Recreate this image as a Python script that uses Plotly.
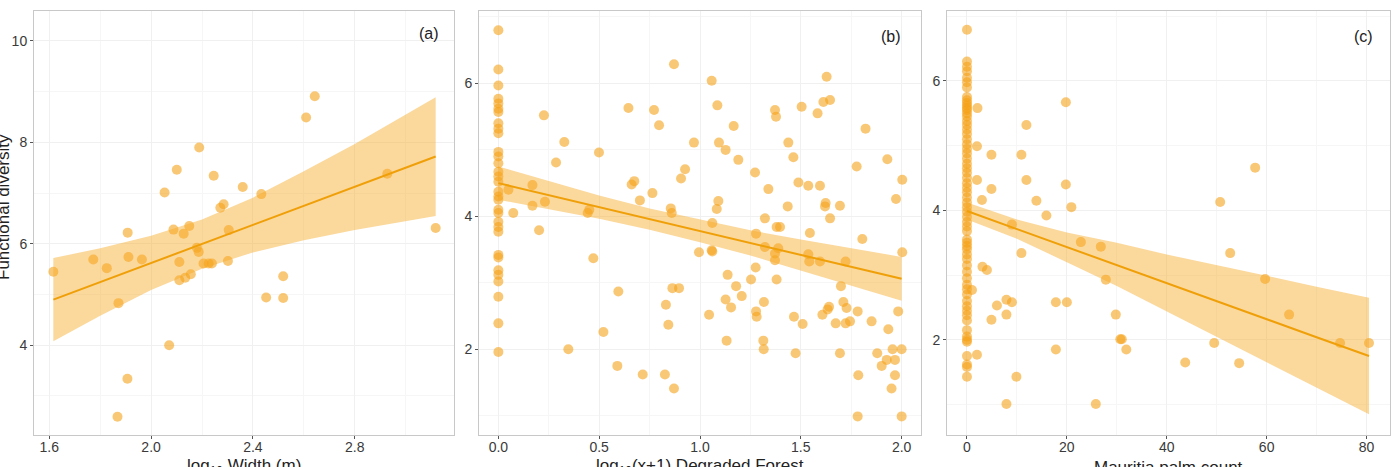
import plotly.graph_objects as go

# ---------------- data ----------------
# Panel (a): log10 Width (m) vs Functional diversity
a_x = [1.616, 1.773, 1.826, 1.872, 1.908, 1.911, 1.964, 1.907, 1.868, 2.053,
       2.101, 2.189, 2.088, 2.128, 2.150, 2.111, 2.111, 2.134, 2.156, 2.071,
       2.180, 2.187, 2.206, 2.226, 2.239, 2.246, 2.272, 2.285, 2.305, 2.302,
       2.360, 2.433, 2.452, 2.519, 2.519, 2.609, 2.643, 2.928, 3.118]
a_y = [5.45, 5.69, 5.52, 4.83, 6.22, 5.74, 5.69, 3.34, 2.59, 7.01,
       7.46, 7.90, 6.28, 6.20, 6.35, 5.64, 5.28, 5.33, 5.40, 4.00,
       5.92, 5.84, 5.61, 5.61, 5.61, 7.34, 6.71, 6.78, 6.27, 5.66,
       7.12, 6.98, 4.94, 5.36, 4.93, 8.49, 8.91, 7.38, 6.31]
a_fit_x = [1.616, 1.8, 2.0, 2.2, 2.4, 2.6, 2.8, 3.0, 3.118]
a_fit = [4.90, 5.245, 5.62, 6.00, 6.37, 6.75, 7.12, 7.50, 7.72]
a_hi = [5.72, 5.91, 6.16, 6.48, 6.91, 7.43, 7.97, 8.55, 8.89]
a_lo = [4.08, 4.58, 5.09, 5.51, 5.83, 6.07, 6.27, 6.45, 6.55]

# Panel (b): log10(x+1) Degraded Forest vs Functional diversity
b_x0_y = [6.80, 6.21, 5.97, 5.77, 5.70, 5.62, 5.57, 5.40, 5.32, 5.25,
          4.97, 4.90, 4.80, 4.67, 4.60, 4.52, 4.37, 4.30, 4.25, 4.10,
          4.05, 3.92, 3.84, 3.77, 3.42, 3.38, 3.19, 3.12, 3.02, 2.79,
          2.39, 1.96]
b_xo = [0.050, 0.074, 0.169, 0.169, 0.202, 0.226, 0.231, 0.286, 0.327, 0.347,
        0.443, 0.451, 0.471, 0.499, 0.521, 0.590, 0.595, 0.645, 0.661, 0.674,
        0.702, 0.716, 0.764, 0.772, 0.797, 0.826, 0.831, 0.843, 0.855, 0.860,
        0.871, 0.871, 0.863, 0.896, 0.906, 0.926, 0.970, 0.995, 1.045, 1.058,
        1.061, 1.058, 1.061, 1.083, 1.086, 1.091, 1.094, 1.127, 1.127, 1.132,
        1.137, 1.154, 1.167, 1.179, 1.190, 1.207, 1.253, 1.273, 1.278, 1.276,
        1.278, 1.281, 1.314, 1.316, 1.317, 1.322, 1.322, 1.339, 1.372, 1.377,
        1.372, 1.372, 1.380, 1.380, 1.397, 1.388, 1.438, 1.435, 1.463, 1.466,
        1.474, 1.488, 1.504, 1.509, 1.537, 1.537, 1.545, 1.542, 1.583, 1.595,
        1.595, 1.607, 1.612, 1.620, 1.623, 1.628, 1.633, 1.640, 1.645, 1.645,
        1.673, 1.694, 1.694, 1.699, 1.711, 1.727, 1.722, 1.722, 1.744, 1.777,
        1.782, 1.785, 1.782, 1.805, 1.821, 1.851, 1.879, 1.901, 1.926, 1.929,
        1.934, 1.950, 1.955, 1.967, 1.967, 1.972, 1.983, 2.000, 2.000, 2.003,
        2.003]
b_yo = [4.40, 4.05, 4.47, 4.16, 3.79, 5.52, 4.22, 4.81, 5.12, 2.00,
        4.05, 4.10, 3.37, 4.96, 2.26, 1.75, 2.87, 5.63, 4.48, 4.53,
        4.24, 1.62, 4.35, 5.60, 5.37, 1.62, 2.67, 2.37, 4.12, 4.05,
        6.29, 1.41, 2.92, 2.92, 4.57, 4.71, 5.11, 3.46, 2.52, 6.04,
        3.90, 3.49, 3.47, 4.11, 5.67, 4.23, 5.11, 5.00, 2.75, 2.13,
        3.12, 2.63, 5.36, 2.95, 4.85, 2.80, 3.05, 4.66, 3.74, 3.23,
        2.57, 2.49, 2.13, 2.00, 2.71, 3.97, 3.54, 4.41, 5.60, 5.50,
        3.34, 3.44, 3.84, 3.05, 3.84, 3.52, 5.11, 4.15, 4.89, 2.49,
        1.94, 4.51, 5.65, 2.38, 4.46, 3.43, 3.75, 3.32, 5.55, 4.46,
        3.32, 2.52, 5.72, 4.15, 4.20, 6.10, 2.60, 2.64, 5.75, 3.97,
        2.39, 4.16, 1.94, 2.95, 2.71, 2.62, 2.39, 3.32, 2.42, 4.75,
        2.57, 1.61, 0.99, 3.66, 5.32, 2.42, 1.94, 1.75, 1.84, 4.86,
        2.30, 1.41, 2.00, 1.84, 1.61, 4.26, 2.57, 2.00, 0.99, 4.55,
        3.46]
b_fit_x = [0.0, 0.25, 0.5, 0.75, 1.0, 1.25, 1.5, 1.75, 2.0]
b_fit = [4.50, 4.32, 4.14, 3.96, 3.78, 3.60, 3.42, 3.24, 3.06]
b_hi = [4.75, 4.53, 4.315, 4.12, 3.95, 3.79, 3.65, 3.52, 3.39]
b_lo = [4.25, 4.11, 3.965, 3.80, 3.61, 3.41, 3.19, 2.96, 2.73]

# Panel (c): Mauritia palm count vs Functional diversity
c_x0_y = [6.79, 6.30, 6.22, 6.15, 6.05, 5.98, 5.90, 5.75, 5.70, 5.66,
          5.62, 5.58, 5.55, 5.50, 5.45, 5.38, 5.32, 5.25, 5.18, 5.10,
          5.02, 4.95, 4.88, 4.80, 4.72, 4.65, 4.58, 4.50, 4.42, 4.35,
          4.28, 4.20, 4.12, 4.05, 3.98, 3.90, 3.82, 3.75, 3.68, 3.55,
          3.50, 3.45, 3.40, 3.32, 3.25, 3.15, 3.05, 2.95, 2.85, 2.78,
          2.70, 2.60, 2.52, 2.45, 2.38, 2.30, 2.15, 2.05, 2.00, 1.97,
          1.75, 1.62, 1.58, 1.43]
c_xo = [2.1, 2.0, 2.0, 1.0, 2.0, 3.0, 3.1, 4.0, 4.9, 4.9,
        4.9, 6.0, 7.9, 7.9, 7.9, 9.0, 9.0, 9.9, 10.9, 10.9,
        11.9, 11.9, 13.9, 15.9, 17.8, 17.8, 19.8, 19.8, 20.0, 20.9,
        22.8, 25.8, 26.8, 27.8, 29.8, 30.7, 31.0, 31.9, 43.7, 49.5,
        50.7, 52.7, 54.5, 57.7, 59.7, 64.5, 74.7, 80.5]
c_yo = [5.58, 4.99, 4.47, 2.77, 1.77, 4.16, 3.13, 3.08, 4.86, 4.33,
        2.31, 2.53, 2.62, 2.39, 1.01, 3.78, 2.58, 1.43, 4.86, 3.34,
        5.32, 4.47, 4.15, 3.92, 2.58, 1.85, 5.67, 4.40, 2.58, 4.05,
        3.51, 1.01, 3.44, 2.93, 2.39, 2.01, 2.01, 1.85, 1.65, 1.95,
        4.13, 3.34, 1.64, 4.66, 2.94, 2.39, 1.95, 1.95]
c_fit_x = [0, 10, 20, 30, 40, 50, 60, 70, 80.5]
c_fit = [3.99, 3.71, 3.43, 3.16, 2.88, 2.60, 2.32, 2.04, 1.75]
c_hi = [4.12, 3.86, 3.66, 3.50, 3.32, 3.16, 2.99, 2.82, 2.65]
c_lo = [3.86, 3.56, 3.20, 2.83, 2.44, 2.04, 1.65, 1.26, 0.85]

x_titles = ["log<sub>10</sub> Width (m)",
            "log<sub>10</sub>(x+1) Degraded Forest",
            "Mauritia palm count"]
y_title = "Functional diversity"
tags = ["(a)", "(b)", "(c)"]

# ---------------- styling ----------------
PT = "rgba(245,160,20,0.58)"
BAND = "rgba(247,168,35,0.45)"
LINE = "#EF9F08"
FONT = "Liberation Sans, Arial, sans-serif"
TITLE_FONT = dict(family=FONT, size=17, color="#222222")

fig = go.Figure()

panels = [
    ("x", "y", a_x, a_y, a_fit_x, a_fit, a_hi, a_lo),
    ("x2", "y2", [0.0] * len(b_x0_y) + b_xo, b_x0_y + b_yo, b_fit_x, b_fit, b_hi, b_lo),
    ("x3", "y3", [0.0] * len(c_x0_y) + c_xo, c_x0_y + c_yo, c_fit_x, c_fit, c_hi, c_lo),
]
for xa, ya, px, py, fx, fy, hi, lo in panels:
    fig.add_trace(go.Scatter(x=px, y=py, mode="markers", xaxis=xa, yaxis=ya,
                             marker=dict(size=10, color=PT, line=dict(width=0)),
                             showlegend=False, hoverinfo="skip"))
    fig.add_trace(go.Scatter(x=fx + fx[::-1], y=hi + lo[::-1], mode="lines",
                             xaxis=xa, yaxis=ya, fill="toself", fillcolor=BAND,
                             line=dict(width=0), showlegend=False, hoverinfo="skip"))
    fig.add_trace(go.Scatter(x=fx, y=fy, mode="lines", xaxis=xa, yaxis=ya,
                             line=dict(color=LINE, width=2),
                             showlegend=False, hoverinfo="skip"))

W, H = 1392, 467
ytop, ybot = 1 - 11 / H, 1 - 435 / H
xdoms = [(34 / W, 454 / W), (479 / W, 921 / W), (947 / W, 1390 / W)]
xranges = [(1.54, 3.19), (-0.096, 2.096), (-4.0, 84.7)]
yranges = [(2.23, 10.59), (0.71, 7.09), (0.53, 7.08)]
xticks = [([1.6, 2.0, 2.4, 2.8], ["1.6", "2.0", "2.4", "2.8"], 0.2),
          ([0, 0.5, 1.0, 1.5, 2.0], ["0.0", "0.5", "1.0", "1.5", "2.0"], 0.25),
          ([0, 20, 40, 60, 80], ["0", "20", "40", "60", "80"], 10)]
yticks = [([4, 6, 8, 10], 1), ([2, 4, 6], 1), ([2, 4, 6], 1)]

common = dict(showline=True, linecolor="#C8C8C8", linewidth=1, mirror=True,
              ticks="outside", ticklen=3, tickcolor="#555555", tickwidth=1,
              showgrid=True, gridcolor="#F0F0F0", gridwidth=1, zeroline=False,
              automargin=False,
              tickfont=dict(family=FONT, size=14, color="#3A3A3A"))

layout = {}
for i in range(3):
    sx = "xaxis" if i == 0 else f"xaxis{i+1}"
    sy = "yaxis" if i == 0 else f"yaxis{i+1}"
    tv, tt, mdt = xticks[i]
    layout[sx] = dict(domain=list(xdoms[i]), range=list(xranges[i]),
                      anchor="y" if i == 0 else f"y{i+1}",
                      tickmode="array", tickvals=tv, ticktext=tt,
                      ticklabelstandoff=-4,
                      minor=dict(dtick=mdt, showgrid=True, gridcolor="#F6F6F6", ticks=""),
                      **common)
    ytv, ymdt = yticks[i]
    layout[sy] = dict(domain=[ybot, ytop], range=list(yranges[i]),
                      anchor="x" if i == 0 else f"x{i+1}",
                      tickmode="array", tickvals=ytv,
                      minor=dict(dtick=ymdt, showgrid=True, gridcolor="#F6F6F6", ticks=""),
                      **common)

fig.update_layout(width=W, height=H, margin=dict(l=0, r=0, t=0, b=0),
                  paper_bgcolor="white", plot_bgcolor="white", **layout)

# axis titles (placed at the figure edge, partly clipped as in the reference)
for i in range(3):
    cx = (xdoms[i][0] + xdoms[i][1]) / 2
    fig.add_annotation(x=cx, y=1 - 467 / H, xref="paper", yref="paper",
                       text=x_titles[i], showarrow=False, xanchor="center",
                       yanchor="middle", font=TITLE_FONT)
fig.add_annotation(x=3 / W, y=1 - 207 / H, xref="paper", yref="paper",
                   text=y_title, textangle=-90, showarrow=False,
                   xanchor="center", yanchor="middle", font=TITLE_FONT)

tag_pos = [(0.940, 0.948), (0.932, 0.939), (0.941, 0.939)]
for i, (tx, ty) in enumerate(tag_pos):
    xr = "x domain" if i == 0 else f"x{i+1} domain"
    yr = "y domain" if i == 0 else f"y{i+1} domain"
    fig.add_annotation(x=tx, y=ty, xref=xr, yref=yr, text=tags[i], showarrow=False,
                       xanchor="center", yanchor="middle",
                       font=dict(family=FONT, size=16, color="#222222"))

fig.write_html("out.html", config={"displayModeBar": False},
               post_script="document.body.style.margin='0px';")
